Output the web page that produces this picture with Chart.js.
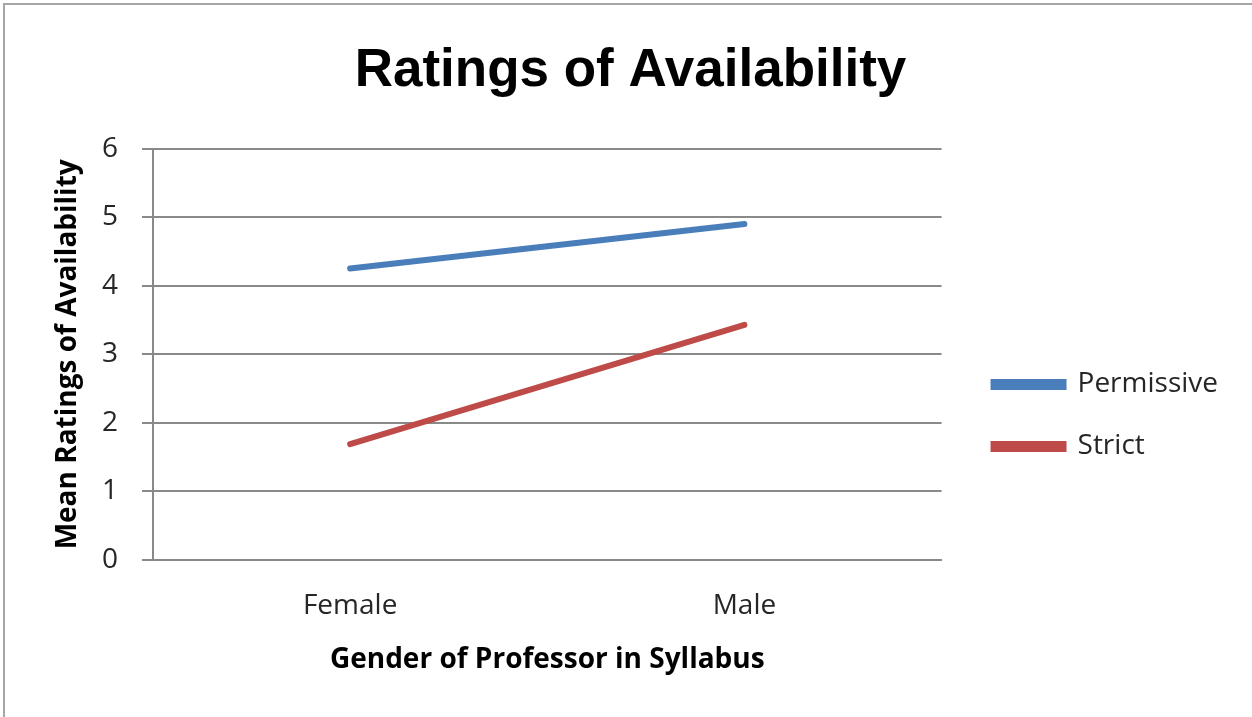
<!DOCTYPE html>
<html>
<head>
<meta charset="utf-8">
<script src="https://cdn.jsdelivr.net/npm/chart.js@4"></script>
<style>
  body { margin: 0; background: #fff; }
  #wrap { position: relative; width: 1252px; height: 717px; }
  #frame { position: absolute; left: 3px; top: 3px; right: 0; bottom: 0;
           border-top: 2px solid #a6a6a6; border-left: 2px solid #a6a6a6; }
  canvas { position: absolute; left: 0; top: 0; }
</style>
</head>
<body>
<div id="wrap">
  <div id="frame"></div>
  <canvas id="availability-chart" width="1252" height="717"></canvas>
</div>
<script>
// data
var genders = ["Female", "Male"];
var permissive = [4.25, 4.9];
var strict = [1.69, 3.43];
var yTicks = [0, 1, 2, 3, 4, 5, 6];

var titleFont = '"Liberation Sans", Arial, sans-serif';
var bodyFont = '"Open Sans", "Liberation Sans", sans-serif';

// nudge the legend so the plot keeps its own right edge
var legendShift = {
  id: 'legendShift',
  afterLayout: function(chart) {
    chart.legend.left += 18;
    chart.legend.right += 18;
    chart.legend.top += 77;
    chart.legend.bottom += 77;
  }
};

new Chart(document.getElementById("availability-chart"), {
  type: 'line',
  data: {
    labels: genders,
    datasets: [
      {
        label: "Permissive",
        data: permissive,
        borderColor: "#4a7ebb",
        backgroundColor: "#4a7ebb",
        borderWidth: 6,
        borderCapStyle: 'round',
        pointRadius: 0,
        fill: false
      }, {
        label: "Strict",
        data: strict,
        borderColor: "#be4b48",
        backgroundColor: "#be4b48",
        borderWidth: 6,
        borderCapStyle: 'round',
        pointRadius: 0,
        fill: false
      }
    ]
  },
  options: {
    responsive: false,
    animation: false,
    layout: { padding: { left: 51, right: 42, top: 0, bottom: 40 } },
    plugins: {
      tooltip: { enabled: false },
      title: {
        display: true,
        text: 'Ratings of Availability',
        color: '#000',
        font: { family: titleFont, size: 53, weight: 'bold' },
        padding: { top: 40, bottom: 45 }
      },
      legend: {
        position: 'right',
        labels: {
          color: '#262626',
          font: { family: bodyFont, size: 28 },
          boxWidth: 70,
          boxHeight: 5,
          padding: 34
        }
      }
    },
    scales: {
      x: {
        offset: true,
        grid: { display: false, drawTicks: false },
        border: { color: '#898989', width: 2 },
        ticks: { color: '#262626', font: { family: bodyFont, size: 28 }, padding: 29 },
        title: {
          display: true,
          text: 'Gender of Professor in Syllabus',
          color: '#000',
          font: { family: bodyFont, size: 28, weight: 'bold' },
          padding: { top: 0, bottom: 0 }
        },
        afterFit: function(s) { s.height = 117; }
      },
      y: {
        min: 0,
        max: 6,
        afterBuildTicks: function(s) { s.ticks = yTicks.map(function(v) { return { value: v }; }); },
        grid: { color: '#898989', lineWidth: 2, tickLength: 11 },
        border: { color: '#898989', width: 2 },
        ticks: { color: '#262626', font: { family: bodyFont, size: 28 }, padding: 24 },
        title: {
          display: true,
          text: 'Mean Ratings of Availability',
          color: '#000',
          font: { family: bodyFont, size: 28, weight: 'bold' },
          padding: 0
        },
        afterFit: function(s) { s.width = 102; }
      }
    }
  },
  plugins: [legendShift]
});
</script>
</body>
</html>
